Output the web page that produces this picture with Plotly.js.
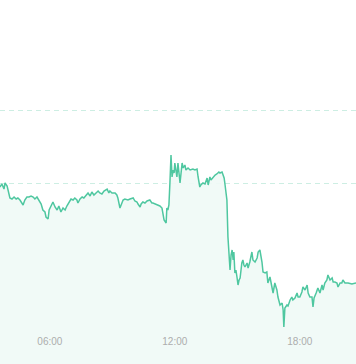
<!DOCTYPE html>
<html>
<head>
<meta charset="utf-8">
<script src="https://cdn.plot.ly/plotly-3.0.1.min.js"></script>
<style>html,body{margin:0;padding:0;background:#fff;}#chart{width:356px;height:364px;}</style>
</head>
<body>
<div id="chart"></div>
<script>
const day = '2024-05-10';
const times = [
'03:36','03:42','03:48','03:51','03:57','04:02','04:05','04:11','04:17','04:23','04:28','04:34','04:40','04:43','04:48','04:54',
'05:00','05:06','05:12','05:17','05:23','05:29','05:35','05:40','05:46','05:49','05:55','05:58',
'06:03','06:09','06:15','06:21','06:26','06:32','06:38','06:44','06:49','06:55',
'07:01','07:07','07:12','07:18','07:21','07:27','07:33','07:38','07:44','07:50','07:56',
'08:01','08:07','08:13','08:19','08:24','08:30','08:36','08:45','08:50','08:53','08:59',
'09:08','09:13','09:16','09:22','09:28','09:31','09:36','09:45','09:51',
'10:00','10:05','10:11','10:14','10:20','10:23','10:28','10:34','10:40','10:48','10:54','10:57',
'11:03','11:12','11:17','11:23','11:29','11:35','11:37','11:40','11:43','11:46','11:49','11:52','11:55','11:58',
'12:00','12:06','12:09','12:15','12:21','12:24','12:29','12:32','12:38','12:44','12:52','12:58',
'13:04','13:07','13:12','13:15','13:21','13:27','13:33','13:36','13:41','13:44','13:50','13:56',
'14:01','14:07','14:10','14:16','14:19','14:22','14:24','14:27','14:30','14:33','14:36','14:39','14:42','14:45','14:48','14:50','14:53','14:56','14:59',
'15:02','15:05','15:08','15:13','15:16','15:19','15:22','15:28','15:31','15:36','15:42','15:45','15:51','15:57',
'16:00','16:05','16:08','16:11','16:14','16:20','16:25','16:28','16:34','16:40','16:43','16:48','16:54','16:57',
'17:03','17:09','17:12','17:14','17:17','17:23','17:26','17:32','17:37','17:40','17:46','17:52','17:55',
'18:00','18:06','18:09','18:15','18:21','18:24','18:29','18:35','18:38','18:41','18:47','18:52','18:58',
'19:04','19:07','19:12','19:18','19:21','19:27','19:33','19:36','19:41','19:47','19:50','19:56',
'20:01','20:04','20:10','20:19','20:30','20:42'
];
const values = [
3.13,3.16,3.11,3.17,3.14,3.07,3.02,3.01,3.03,3.01,3.02,3.00,2.97,2.95,3.00,3.03,
3.03,3.04,3.03,3.01,3.03,2.99,2.96,2.90,2.88,2.83,2.81,2.90,
2.94,2.98,2.93,2.90,2.94,2.88,2.92,2.90,2.94,2.97,
3.01,3.00,3.02,3.00,2.97,3.01,3.03,3.02,3.05,3.07,3.04,
3.08,3.05,3.07,3.09,3.07,3.06,3.09,3.11,3.07,3.09,3.07,
3.07,3.05,3.02,2.92,2.97,3.00,3.01,3.00,3.01,
3.02,2.99,2.98,2.96,2.93,2.96,2.98,2.97,2.99,3.00,2.97,2.97,
2.96,2.95,2.94,2.92,2.80,2.77,2.92,2.90,2.95,3.18,3.45,3.23,3.30,3.27,
3.37,3.23,3.37,3.17,3.37,3.32,3.35,3.30,3.32,3.30,3.31,3.30,
3.31,3.23,3.13,3.15,3.17,3.16,3.22,3.15,3.23,3.20,3.23,3.25,
3.26,3.28,3.27,3.28,3.25,3.22,3.17,3.10,3.00,2.63,2.50,2.30,2.45,2.50,2.40,2.48,2.27,2.30,2.23,
2.15,2.20,2.22,2.37,2.40,2.35,2.33,2.37,2.32,2.38,2.48,2.40,2.38,2.42,
2.48,2.50,2.45,2.38,2.28,2.27,2.28,2.17,2.23,2.10,2.07,2.17,2.10,2.03,
1.95,1.97,1.90,1.73,1.92,1.95,1.94,2.00,2.03,2.00,2.02,2.07,2.03,
2.03,2.08,2.13,2.10,2.15,2.07,2.03,2.03,1.93,2.02,2.07,2.12,2.07,
2.15,2.10,2.17,2.20,2.25,2.20,2.22,2.18,2.18,2.17,2.13,2.17,
2.17,2.20,2.17,2.17,2.16,2.17
];
const xTicks = ['06:00','12:00','18:00'];
const yGrid = [3.17, 3.90];
const xRange = ['03:36:30','20:41:48'];
const yRange = [1.36, 5.00];

const trace = {
  x: times.map(t => day + ' ' + t),
  y: values,
  type: 'scatter',
  mode: 'lines',
  line: {color: '#4fc7a0', width: 1.5},
  fill: 'tozeroy',
  fillcolor: 'rgba(240,250,246,0.92)',
  hoverinfo: 'skip'
};
const layout = {
  width: 356, height: 364,
  margin: {l: 0, r: 0, t: 0, b: 0},
  paper_bgcolor: '#ffffff',
  plot_bgcolor: '#ffffff',
  showlegend: false,
  xaxis: {
    type: 'date',
    range: xRange.map(t => day + ' ' + t),
    tickvals: xTicks.map(t => day + ' ' + t),
    ticktext: xTicks,
    ticklabelposition: 'inside',
    ticklabelstandoff: 14,
    ticks: '',
    showgrid: false,
    zeroline: false,
    showline: false,
    tickfont: {family: 'Liberation Sans, Arial, sans-serif', size: 10, color: '#adadad'}
  },
  yaxis: {
    range: yRange,
    tickvals: yGrid,
    showticklabels: false,
    ticks: '',
    showgrid: true,
    gridcolor: '#cdeee3',
    griddash: '5px,4px',
    gridwidth: 1,
    zeroline: false,
    showline: false
  }
};
Plotly.newPlot('chart', [trace], layout, {displayModeBar: false, staticPlot: true});
</script>
</body>
</html>
